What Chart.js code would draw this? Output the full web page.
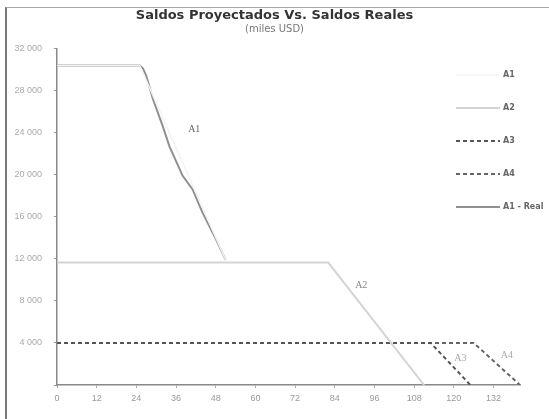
<!DOCTYPE html>
<html>
<head>
<meta charset="utf-8">
<script src="https://cdn.jsdelivr.net/npm/chart.js@4"></script>
<style>
  body { margin: 0; background: #fff; }
  #frame { position: absolute; left: 5px; top: 7px; width: 600px; height: 500px;
           border-left: 2px solid #777; border-top: 1px solid #aaa; }
  #wrap { position: absolute; left: 0; top: 0; width: 549px; height: 419px; }
</style>
</head>
<body>
<div id="frame"></div>
<div id="wrap"><canvas id="saldos"></canvas></div>
<script>
// months vs. balance (miles USD)
const a1Real = [[0, 30400], [25, 30400], [26, 30100], [27, 29400], [29, 27200], [32, 24600],
                [34, 22700], [38, 19900], [41, 18600], [44, 16400], [48, 13900], [51, 11900]];
const a1Proj = [[0, 30400], [25, 30400], [51, 11900]];
const a2Proj = [[0, 11650], [82, 11650], [111, 0]];
const a3Proj = [[0, 4000], [113, 4000], [125, 0]];
const a4Proj = [[0, 4000], [126, 4000], [140, 0]];

const seriesNames = ['A1', 'A2', 'A3', 'A4', 'A1 - Real'];
// text labels placed next to each line (month, value)
const lineLabels = [
    { text: 'A1', x: 41.5, y: 24300, color: '#666' },
    { text: 'A2', x: 92, y: 9500, color: '#888' },
    { text: 'A3', x: 122, y: 2550, color: '#aaa' },
    { text: 'A4', x: 136, y: 2850, color: '#aaa' }
];

const toXY = arr => arr.map(p => ({ x: p[0], y: p[1] }));
const fmt = v => String(v).replace(/\B(?=(\d{3})+(?!\d))/g, ' ');

const labelPlugin = {
    id: 'lineLabels',
    afterDatasetsDraw(chart) {
        const { ctx, scales } = chart;
        ctx.save();
        ctx.font = '10px "Liberation Serif"';
        ctx.textAlign = 'center';
        ctx.textBaseline = 'middle';
        lineLabels.forEach(l => {
            ctx.fillStyle = l.color;
            ctx.fillText(l.text, scales.x.getPixelForValue(l.x), scales.y.getPixelForValue(l.y));
        });
        ctx.restore();
    }
};

// legend drawn over the right part of the plot, like the original
const legendPlugin = {
    id: 'sideLegend',
    afterDraw(chart) {
        const ctx = chart.ctx;
        ctx.save();
        ctx.font = 'bold 8px "DejaVu Sans"';
        ctx.textBaseline = 'middle';
        chart.data.datasets.forEach((ds, i) => {
            const y = 75 + i * 33;
            ctx.strokeStyle = ds.borderColor;
            ctx.lineWidth = ds.borderWidth;
            ctx.setLineDash(ds.borderDash || []);
            ctx.beginPath();
            ctx.moveTo(456, y);
            ctx.lineTo(500, y);
            ctx.stroke();
            ctx.fillStyle = '#666';
            ctx.fillText(ds.label, 503, y);
        });
        ctx.restore();
    }
};

new Chart(document.getElementById('saldos'), {
    type: 'scatter',
    data: {
        datasets: [
            { label: seriesNames[0], data: toXY(a1Proj), borderColor: '#f3f3f3', borderWidth: 1.5 },
            { label: seriesNames[1], data: toXY(a2Proj), borderColor: '#d4d4d4', borderWidth: 2 },
            { label: seriesNames[2], data: toXY(a3Proj), borderColor: '#555', borderWidth: 2, borderDash: [4, 3] },
            { label: seriesNames[3], data: toXY(a4Proj), borderColor: '#666', borderWidth: 2, borderDash: [4, 3] },
            { label: seriesNames[4], data: toXY(a1Real), borderColor: '#909090', borderWidth: 2 }
        ].map(ds => Object.assign(ds, { showLine: true, pointRadius: 0, tension: 0, fill: false }))
    },
    options: {
        responsive: true,
        maintainAspectRatio: false,
        animation: false,
        layout: { padding: { left: 7, right: 7, top: 0, bottom: 6 } },
        scales: {
            x: {
                min: 0,
                max: 140,
                afterBuildTicks: s => { s.ticks = s.ticks.filter(t => t.value % 12 === 0); },
                afterFit: s => { s.height = 28; },
                ticks: { stepSize: 12, color: '#999', font: { size: 9, family: 'Liberation Sans' }, padding: 5 },
                grid: { display: true, drawOnChartArea: false, tickLength: 3, color: '#aaa' },
                border: { color: '#888', width: 1.5 }
            },
            y: {
                min: 0,
                max: 32000,
                afterFit: s => { s.width = 50; },
                ticks: {
                    stepSize: 4000,
                    color: '#aaa',
                    font: { size: 9, family: 'Liberation Sans' },
                    padding: 12,
                    callback: v => v === 0 ? '' : fmt(v)
                },
                grid: { display: true, drawOnChartArea: false, tickLength: 3, color: '#999' },
                border: { color: '#888', width: 1.5 }
            },
            // empty strip on the right so the title stays centred on the page
            spacer: {
                type: 'linear',
                axis: 'y',
                position: 'right',
                afterFit: s => { s.width = 22; },
                ticks: { display: false },
                grid: { display: false },
                border: { display: false }
            }
        },
        plugins: {
            legend: { display: false },
            tooltip: { enabled: false },
            title: {
                display: true,
                text: 'Saldos Proyectados Vs. Saldos Reales',
                color: '#333',
                font: { size: 13, weight: 'bold', family: 'DejaVu Sans' },
                padding: { top: 8, bottom: 0 }
            },
            subtitle: {
                display: true,
                text: '(miles USD)',
                color: '#777',
                font: { size: 10, family: 'DejaVu Sans' },
                padding: { top: 0, bottom: 13 }
            }
        }
    },
    plugins: [labelPlugin, legendPlugin]
});
</script>
</body>
</html>
